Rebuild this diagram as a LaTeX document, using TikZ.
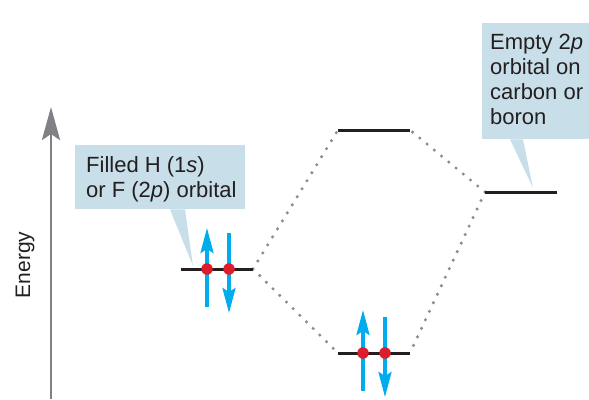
\documentclass[tikz,border=0pt]{standalone}
\usepackage{fontspec}
\setmainfont{Liberation Sans}
\usetikzlibrary{arrows.meta}
\definecolor{boxblue}{RGB}{200,222,232}
\definecolor{eblue}{RGB}{0,172,236}
\definecolor{ered}{RGB}{222,28,44}
\definecolor{axisgray}{RGB}{128,128,133}
\definecolor{dotgray}{RGB}{140,140,140}
\definecolor{ink}{RGB}{35,31,32}
\begin{document}
\begin{tikzpicture}[x=1pt,y=-1pt,
  level/.style={draw=ink,line width=3pt},
  dotline/.style={draw=dotgray,line width=3.4pt,line cap=round,dash pattern=on 0pt off 9.4pt},
  espin/.style={draw=eblue,line width=3.2pt,-{Stealth[length=25pt,width=13pt,inset=4pt]}},
  edot/.style={circle,fill=ered,minimum size=11.5pt,inner sep=0pt},
  calloutbox/.style={fill=boxblue,anchor=north west,inner sep=0pt},
  callouttext/.style={anchor=north west,align=left,text=ink,inner sep=0pt,
    font=\fontsize{22}{25}\selectfont},
  axisarrow/.style={draw=axisgray,line width=2.8pt,-{Stealth[length=33pt,width=18pt,inset=6pt]}}
]
\useasboundingbox (0,0) rectangle (589,399);

% energy axis
\coordinate (ebot) at (51,399);
\coordinate (etop) at (51,107);
\draw[axisarrow] (ebot) -- (etop);
\node[rotate=90,text=ink,font=\fontsize{21}{25}\selectfont] (elabel) at (25,265) {Energy};

% level end points
\coordinate (la) at (181,269); \coordinate (lb) at (253,269);
\coordinate (ta) at (338,130); \coordinate (tb) at (410,130);
\coordinate (ba) at (338,353); \coordinate (bb) at (410,353);
\coordinate (ra) at (485,192); \coordinate (rb) at (557,192);

% correlation lines
\draw[dotline] (lb) -- (ta);
\draw[dotline] (lb) -- (ba);
\draw[dotline] (ra) -- (tb);
\draw[dotline] (ra) -- (bb);

% callouts
\node[calloutbox,minimum width=170pt,minimum height=64pt] (cb1) at (75,145) {};
\fill[boxblue] ([xshift=95pt]cb1.south west) -- ([xshift=110pt]cb1.south west) -- (193,266) -- cycle;
\node[callouttext] (t1) at (86,156) {Filled H (1\textit{s})\\or F (2\textit{p}) orbital};

\node[calloutbox,minimum width=107pt,minimum height=116pt] (cb2) at (482,23) {};
\fill[boxblue] ([xshift=28pt]cb2.south west) -- ([xshift=41pt]cb2.south west) -- (533,188) -- cycle;
\node[callouttext] (t2) at (490,34) {Empty 2\textit{p}\\orbital on\\carbon or\\boron};

% levels
\draw[level] (la) -- (lb);
\draw[level] (ta) -- (tb);
\draw[level] (ba) -- (bb);
\draw[level] (ra) -- (rb);

% electrons left
\coordinate (u1s) at (207,307); \coordinate (u1e) at (207,228);
\coordinate (d1s) at (229,233); \coordinate (d1e) at (229,313);
\draw[espin] (u1s) -- (u1e);
\draw[espin] (d1s) -- (d1e);
\node[edot] (e1) at (207,269) {};
\node[edot] (e2) at (229,269) {};

% electrons bottom
\coordinate (u2s) at (363,391); \coordinate (u2e) at (363,310);
\coordinate (d2s) at (385,317); \coordinate (d2e) at (385,397);
\draw[espin] (u2s) -- (u2e);
\draw[espin] (d2s) -- (d2e);
\node[edot] (e3) at (363,353) {};
\node[edot] (e4) at (385,353) {};
\end{tikzpicture}
\end{document}
